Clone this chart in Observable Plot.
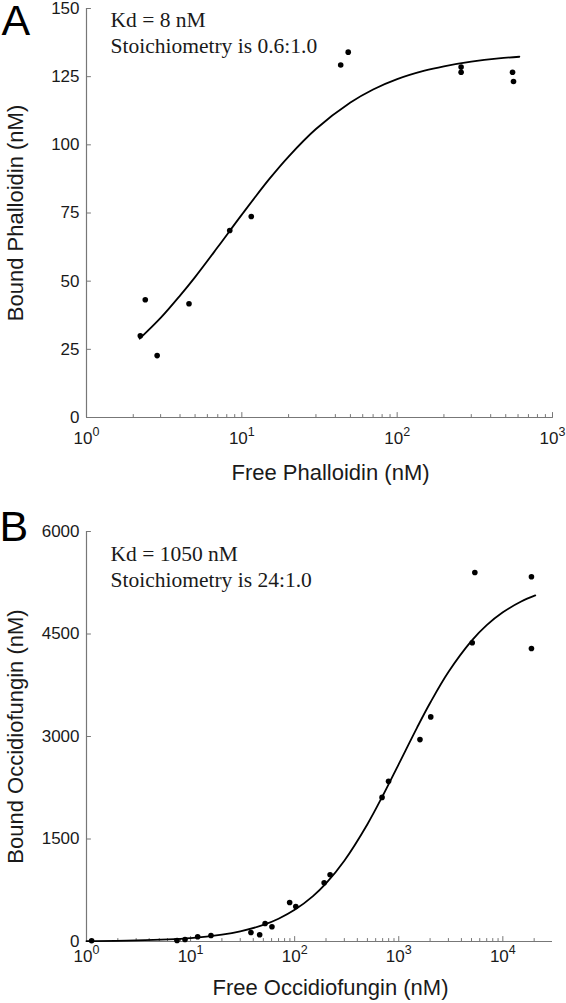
<!DOCTYPE html>
<html><head><meta charset="utf-8">
<script src="https://cdn.jsdelivr.net/npm/d3@7"></script>
<script src="https://cdn.jsdelivr.net/npm/@observablehq/plot@0.6"></script>
<style>
html,body{margin:0;padding:0;background:#fff;}
#chart{width:566px;height:1003px;position:relative;overflow:hidden;background:#fff;}
#chart svg{display:block;}
</style></head><body><div id="chart"></div>
<script>
// ---------- Panel A: phalloidin ----------
const freeA  = [2.22, 2.39, 2.85, 4.57, 8.36, 11.5, 43.3, 48.4, 258, 258, 553, 561];
const boundA = [30.0, 43.2, 22.7, 41.7, 68.6, 73.7, 129.3, 134.0, 128.5, 126.6, 126.6, 123.2];
const fitFreeA  = [2.2, 3, 4, 5, 7, 10, 15, 20, 30, 50, 70, 100, 150, 200, 300, 450, 612];
const fitBoundA = [28.9, 36.5, 44.7, 51.5, 62.5, 74.4, 87.4, 95.7, 105.8, 115.5, 120.3, 124.1, 127.2, 128.8, 130.5, 131.7, 132.3];
const yTicksA = [0, 25, 50, 75, 100, 125, 150];
const xDecadesA = [1, 10, 100, 1000];
const xMinorA = [2,3,4,5,6,7,8,9, 20,30,40,50,60,70,80,90, 200,300,400,500,600,700,800,900];
const notesA = "Kd = 8 nM\nStoichiometry is 0.6:1.0";

// ---------- Panel B: occidiofungin ----------
const freeB  = [1.12, 7.41, 8.84, 11.7, 15.7, 38, 46.1, 52, 60.5, 89.5, 102.5, 192, 219, 691, 798, 1599, 2029, 5082, 5383, 18830, 18830];
const boundB = [10, 15, 29, 69, 88, 132, 98, 264, 215, 571, 513, 860, 977, 2109, 2344, 2955, 3287, 4371, 5401, 5338, 4288];
const fitFreeB  = [1, 3, 10, 20, 30, 50, 70, 100, 150, 200, 300, 500, 700, 1000, 1500, 2000, 3000, 5000, 7000, 10000, 15000, 20500];
const fitBoundB = [5, 15, 50, 100, 148, 242, 333, 463, 665, 851, 1183, 1717, 2129, 2597, 3131, 3490, 3943, 4399, 4629, 4817, 4975, 5064];
const yTicksB = [0, 1500, 3000, 4500, 6000];
const xDecadesB = [1, 10, 100, 1000, 10000];
const xMinorB = [2,3,4,5,6,7,8,9, 20,30,40,50,60,70,80,90, 200,300,400,500,600,700,800,900, 2000,3000,4000,5000,6000,7000,8000,9000, 20000];
const notesB = "Kd = 1050 nM\nStoichiometry is 24:1.0";

const SANS = "'Liberation Sans', Arial, Helvetica, sans-serif";
const SERIF = "'Liberation Serif', 'Times New Roman', serif";
const AXIS = "#777";
const INK = "#1a1a1a";

// inward tick shapes for Plot.vector
const tickUp = {draw(c, l) { c.moveTo(0, 0); c.lineTo(0, -l); }};
const tickRight = {draw(c, l) { c.moveTo(0, 0); c.lineTo(l, 0); }};

function panel(o) {
  const pts = o.free.map((x, i) => ({x, y: o.bound[i]}));
  const fit = o.fitFree.map((x, i) => ({x, y: o.fitBound[i]}));
  const x0 = o.xDomain[0];
  return Plot.plot({
    width: 566, height: o.height,
    marginLeft: 86, marginRight: 14, marginTop: o.marginTop, marginBottom: o.marginBottom,
    style: {fontFamily: SANS, fontSize: "17px", color: INK, background: "#fff", overflow: "visible"},
    x: {type: "log", domain: o.xDomain},
    y: {domain: o.yDomain},
    marks: [
      Plot.ruleY([0], {stroke: AXIS, strokeWidth: 1.2}),
      Plot.ruleX([x0], {stroke: AXIS, strokeWidth: 1.2}),
      // inward ticks
      Plot.vector(o.minor, {x: d => d, y: 0, length: 3, anchor: "start", shape: tickUp, stroke: AXIS, strokeWidth: 1}),
      Plot.vector(o.decades, {x: d => d, y: 0, length: 5, anchor: "start", shape: tickUp, stroke: AXIS, strokeWidth: 1}),
      Plot.vector(o.yTicks, {x: x0, y: d => d, length: 4, anchor: "start", shape: tickRight, stroke: AXIS, strokeWidth: 1}),
      // tick labels
      Plot.axisY({ticks: o.yTicks, tickSize: 0, tickPadding: 7, fill: INK, label: null, fontSize: 17, tickFormat: d => String(d)}),
      Plot.axisX({ticks: o.decades, tickSize: 0, tickPadding: o.xPad, fill: INK, label: null, fontSize: 17,
        tickFormat: d => "10^" + Math.round(Math.log10(d))}),
      Plot.line(fit, {x: "x", y: "y", stroke: "#000", strokeWidth: 1.8, curve: "catmull-rom"}),
      Plot.dot(pts, {x: "x", y: "y", r: 2.8, fill: "#000", stroke: null}),
      Plot.text([o.notes], {text: d => d, frameAnchor: "top-left", textAnchor: "start", lineAnchor: "top",
        dx: 24, dy: o.notesDy, fontFamily: SERIF, fontSize: 21.5, lineHeight: 1.21, fill: INK}),
      Plot.text([o.letter], {text: d => d, frameAnchor: "top-left", textAnchor: "start", lineAnchor: "top",
        dx: o.letterDx, dy: o.letterDy, fontSize: 43, fill: "#000"}),
      Plot.text([o.xTitle], {text: d => d, frameAnchor: "bottom", textAnchor: "middle", lineAnchor: "bottom", dx: 11, dy: o.xTitleDy, fontSize: 22, fill: INK}),
      Plot.text([o.yTitle], {text: d => d, frameAnchor: "left", textAnchor: "middle", lineAnchor: "top", rotate: -90, dx: -79, fontSize: 22, fill: INK})
    ]
  });
}

function superscripts(svg) {
  const ns = "http://www.w3.org/2000/svg";
  svg.querySelectorAll('g[aria-label="x-axis tick label"] text').forEach(t => {
    const s = t.textContent;
    if (!s.includes("^")) return;
    const [base, exp] = s.split("^");
    t.textContent = "";
    const a = document.createElementNS(ns, "tspan");
    a.textContent = base;
    const b = document.createElementNS(ns, "tspan");
    b.textContent = exp;
    b.setAttribute("dy", "-7.5");
    b.setAttribute("font-size", "12.5");
    t.append(a, b);
  });
}

const A = panel({
  free: freeA, bound: boundA, fitFree: fitFreeA, fitBound: fitBoundA,
  xDomain: [1, 1000], yDomain: [0, 150], yTicks: yTicksA, decades: xDecadesA, minor: xMinorA,
  height: 500, marginTop: 8, marginBottom: 83, xPad: 14,
  notes: notesA, notesDy: 0, letter: "A", letterDx: -85, letterDy: -4,
  xTitle: "Free Phalloidin (nM)", yTitle: "Bound Phalloidin (nM)", xTitleDy: 62
});
const B = panel({
  free: freeB, bound: boundB, fitFree: fitFreeB, fitBound: fitBoundB,
  xDomain: [1, 30000], yDomain: [0, 6000], yTicks: yTicksB, decades: xDecadesB, minor: xMinorB,
  height: 503, marginTop: 31, marginBottom: 62, xPad: 8,
  notes: notesB, notesDy: 11, letter: "B", letterDx: -87, letterDy: -21,
  xTitle: "Free Occidiofungin (nM)", yTitle: "Bound Occidiofungin (nM)", xTitleDy: 53
});
superscripts(A); superscripts(B);
const chart = document.getElementById("chart");
chart.append(A, B);
</script>
</body></html>
